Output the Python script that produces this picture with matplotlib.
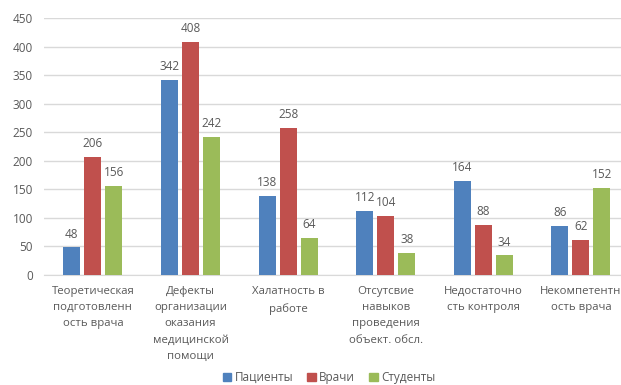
import numpy as np
import matplotlib.pyplot as plt
from matplotlib.patches import Patch

plt.rcParams["font.family"] = ["Open Sans", "DejaVu Sans"]

categories = [
    "Теоретическая\nподготовленн\nость врача",
    "Дефекты\nорганизации\nоказания\nмедицинской\nпомощи",
    "Халатность в\nработе",
    "Отсутсвие\nнавыков\nпроведения\nобъект. обсл.",
    "Недостаточно\nсть контроля",
    "Некомпетентн\nость врача",
]
series_names = ["Пациенты", "Врачи", "Студенты"]
patients = [48, 342, 138, 112, 164, 86]
doctors = [206, 408, 258, 104, 88, 62]
students = [156, 242, 64, 38, 34, 152]
yticks = list(range(0, 451, 50))

colors = ["#4F81BD", "#C0504D", "#9BBB59"]
text_color = "#595959"

fig = plt.figure(figsize=(6.21, 3.85), dpi=100)
ax = fig.add_axes([0.071, 0.286, 0.929, 0.667])

x = np.arange(len(categories))
width = 0.174
step = 0.215
for i, (vals, color) in enumerate(zip([patients, doctors, students], colors)):
    bars = ax.bar(x + (i - 1) * step, vals, width, color=color, zorder=3)
    for b, v in zip(bars, vals):
        ax.annotate(str(v), (b.get_x() + b.get_width() / 2, v),
                    xytext=(0, 5), textcoords="offset points",
                    ha="center", va="bottom", fontsize=8.5, color=text_color)

ax.set_xlim(-0.5, 5.41)
ax.set_ylim(0, 450)
ax.set_yticks(yticks)
ax.yaxis.grid(True, color="#D9D9D9", linewidth=1, zorder=0)
ax.set_xticks(x)
ax.set_xticklabels(categories, fontsize=8.2, color=text_color, linespacing=1.65)
ax.tick_params(axis="y", labelsize=8.5, labelcolor=text_color, length=0, pad=8)
ax.tick_params(axis="x", length=0, pad=8)
for s in ["top", "right", "left"]:
    ax.spines[s].set_visible(False)
ax.spines["bottom"].set_color("#D9D9D9")

handles = [Patch(color=c) for c in colors]
fig.legend(handles, series_names, loc="center", bbox_to_anchor=(0.53, 0.02),
           ncol=3, frameon=False, fontsize=8.5, handlelength=0.7,
           handleheight=0.7, handletextpad=0.3, columnspacing=1.2,
           labelcolor=text_color)

fig.savefig("out.png", dpi=100)
